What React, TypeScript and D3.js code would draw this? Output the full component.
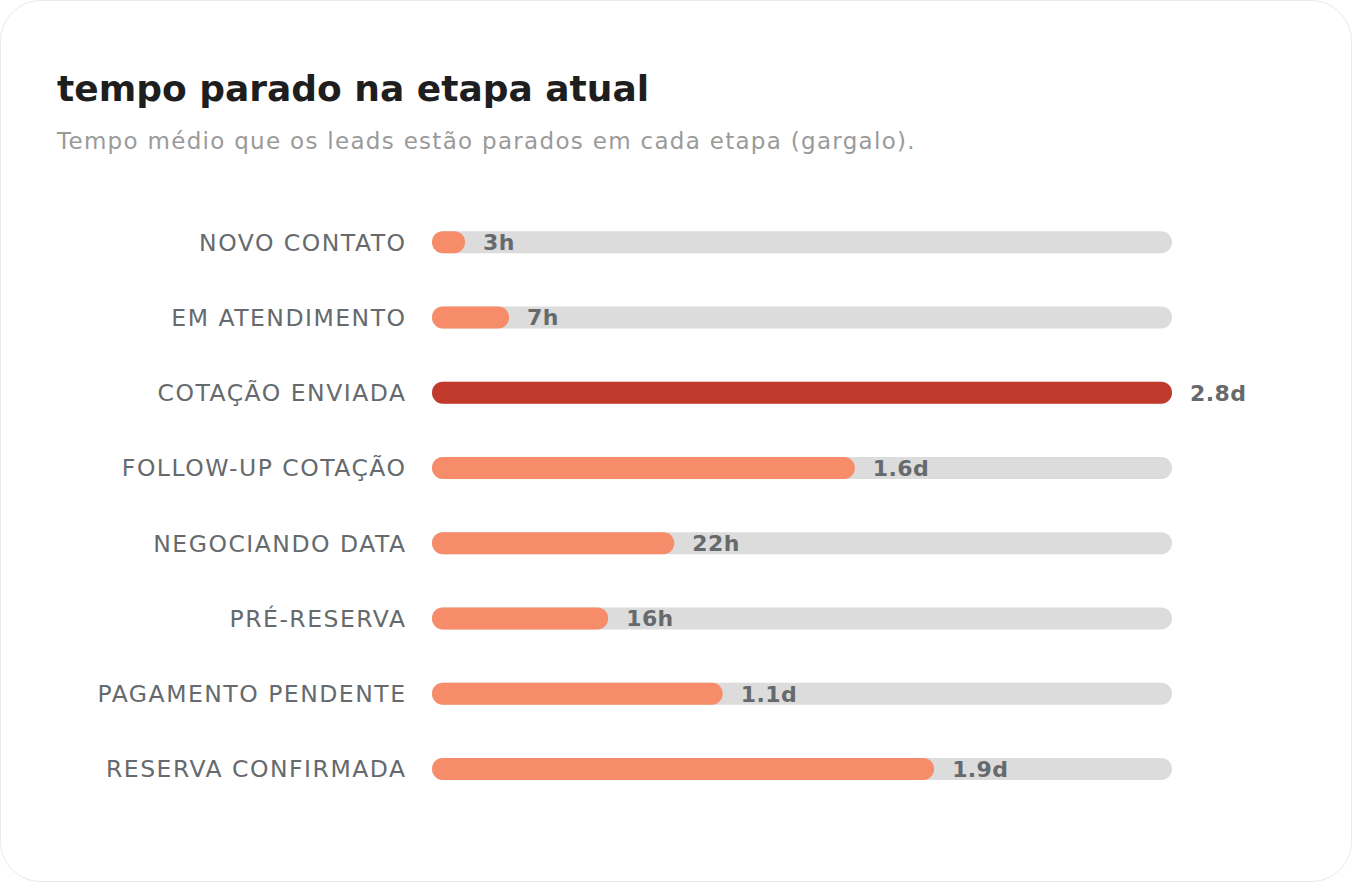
import React from "react";
import * as d3 from "d3";

// tempo médio parado em cada etapa (horas)
const stages = [
  "NOVO CONTATO",
  "EM ATENDIMENTO",
  "COTAÇÃO ENVIADA",
  "FOLLOW-UP COTAÇÃO",
  "NEGOCIANDO DATA",
  "PRÉ-RESERVA",
  "PAGAMENTO PENDENTE",
  "RESERVA CONFIRMADA",
];
const hours = [3, 7, 67.2, 38.4, 22, 16, 26.4, 45.6];
const valueLabels = ["3h", "7h", "2.8d", "1.6d", "22h", "16h", "1.1d", "1.9d"];

const W = 1352;
const H = 882;
const FONT = "'DejaVu Sans', sans-serif";

export default function App() {
  const maxIdx = hours.indexOf(d3.max(hours) as number);

  const x = d3.scaleLinear().domain([0, d3.max(hours) as number]).range([432, 1172]);
  const y = d3.scaleBand<string>().domain(stages).range([204.5, 806.5]).paddingInner(0.7).paddingOuter(0.35);
  const barH = 22;

  return (
    <svg width={W} height={H} style={{ position: "absolute", left: 0, top: 0, display: "block" }} fontFamily={FONT}>
      <rect x={0.5} y={0.5} width={W - 1} height={H - 1} rx={40} fill="#fff" stroke="#e9e9e9" />
      <text x={57} y={101} fontSize={36} fontWeight={700} fill="#1e1e1e">
        tempo parado na etapa atual
      </text>
      <text x={57} y={149} fontSize={23} fill="#9a9a9a" letterSpacing={1.3}>
        Tempo médio que os leads estão parados em cada etapa (gargalo).
      </text>
      {stages.map((s, i) => {
        const cy = (y(s) as number) + y.bandwidth() / 2;
        const x0 = x(0);
        const x1 = x(hours[i]);
        return (
          <g key={s}>
            <text x={406.5} y={cy} dy="0.36em" textAnchor="end" fontSize={23.5} letterSpacing={1.5} fill="#666a6d">
              {s}
            </text>
            <rect x={x0} y={cy - barH / 2} width={x(d3.max(hours) as number) - x0} height={barH} rx={barH / 2} fill="#dcdcdc" />
            <rect
              x={x0}
              y={cy - barH / 2}
              width={x1 - x0}
              height={barH}
              rx={barH / 2}
              fill={i === maxIdx ? "#c0392b" : "#f78c6b"}
            />
            <text x={x1 + 18} y={cy} dy="0.36em" fontSize={22} fontWeight={700} letterSpacing={0.4} fill="#666a6d">
              {valueLabels[i]}
            </text>
          </g>
        );
      })}
    </svg>
  );
}
